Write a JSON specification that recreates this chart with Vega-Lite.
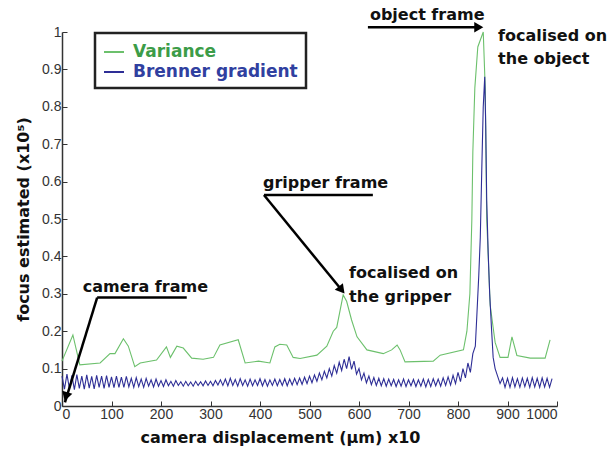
{
  "$schema": "https://vega.github.io/schema/vega-lite/v6.json",
  "width": 495,
  "height": 374,
  "autosize": {"type": "none"},
  "padding": {"left": 62, "top": 32, "right": 54, "bottom": 47},
  "background": "white",
  "config": {
    "font": "Liberation Sans",
    "view": {"stroke": null},
    "axis": {
      "grid": false,
      "domainColor": "#333333",
      "domainWidth": 1.5,
      "tickColor": "#333333",
      "tickSize": -5,
      "labelFont": "Liberation Sans",
      "labelFontSize": 14,
      "labelColor": "#333333",
      "titleFont": "DejaVu Sans",
      "titleFontWeight": "bold",
      "titleColor": "#111111",
      "titleFontSize": 16
    }
  },
  "datasets": {
    "series": [
      {"s": "Variance", "x": 0, "y": 0.12},
      {"s": "Variance", "x": 22, "y": 0.19},
      {"s": "Variance", "x": 36, "y": 0.11},
      {"s": "Variance", "x": 77, "y": 0.115},
      {"s": "Variance", "x": 97, "y": 0.14},
      {"s": "Variance", "x": 107, "y": 0.14},
      {"s": "Variance", "x": 124, "y": 0.18},
      {"s": "Variance", "x": 134, "y": 0.16},
      {"s": "Variance", "x": 147, "y": 0.105},
      {"s": "Variance", "x": 158, "y": 0.115},
      {"s": "Variance", "x": 191, "y": 0.123},
      {"s": "Variance", "x": 211, "y": 0.158},
      {"s": "Variance", "x": 219, "y": 0.13},
      {"s": "Variance", "x": 232, "y": 0.16},
      {"s": "Variance", "x": 245, "y": 0.155},
      {"s": "Variance", "x": 262, "y": 0.128},
      {"s": "Variance", "x": 285, "y": 0.125},
      {"s": "Variance", "x": 306, "y": 0.13},
      {"s": "Variance", "x": 319, "y": 0.163},
      {"s": "Variance", "x": 356, "y": 0.177},
      {"s": "Variance", "x": 370, "y": 0.115},
      {"s": "Variance", "x": 397, "y": 0.12},
      {"s": "Variance", "x": 420, "y": 0.115},
      {"s": "Variance", "x": 430, "y": 0.158},
      {"s": "Variance", "x": 440, "y": 0.165},
      {"s": "Variance", "x": 454, "y": 0.163},
      {"s": "Variance", "x": 467, "y": 0.13},
      {"s": "Variance", "x": 481, "y": 0.127},
      {"s": "Variance", "x": 515, "y": 0.136},
      {"s": "Variance", "x": 535, "y": 0.16},
      {"s": "Variance", "x": 548, "y": 0.2},
      {"s": "Variance", "x": 555, "y": 0.21},
      {"s": "Variance", "x": 568, "y": 0.297},
      {"s": "Variance", "x": 575, "y": 0.28},
      {"s": "Variance", "x": 585, "y": 0.23},
      {"s": "Variance", "x": 596, "y": 0.185},
      {"s": "Variance", "x": 616, "y": 0.15},
      {"s": "Variance", "x": 649, "y": 0.14},
      {"s": "Variance", "x": 666, "y": 0.15},
      {"s": "Variance", "x": 677, "y": 0.163},
      {"s": "Variance", "x": 683, "y": 0.15},
      {"s": "Variance", "x": 693, "y": 0.118},
      {"s": "Variance", "x": 750, "y": 0.12},
      {"s": "Variance", "x": 764, "y": 0.136},
      {"s": "Variance", "x": 811, "y": 0.15},
      {"s": "Variance", "x": 818, "y": 0.2},
      {"s": "Variance", "x": 824, "y": 0.3},
      {"s": "Variance", "x": 828, "y": 0.5},
      {"s": "Variance", "x": 830, "y": 0.68},
      {"s": "Variance", "x": 834, "y": 0.85},
      {"s": "Variance", "x": 840, "y": 0.96},
      {"s": "Variance", "x": 851, "y": 1.0},
      {"s": "Variance", "x": 855, "y": 0.85},
      {"s": "Variance", "x": 858, "y": 0.5},
      {"s": "Variance", "x": 865, "y": 0.27},
      {"s": "Variance", "x": 870, "y": 0.22},
      {"s": "Variance", "x": 875, "y": 0.17},
      {"s": "Variance", "x": 885, "y": 0.13},
      {"s": "Variance", "x": 901, "y": 0.13},
      {"s": "Variance", "x": 909, "y": 0.185},
      {"s": "Variance", "x": 919, "y": 0.135},
      {"s": "Variance", "x": 946, "y": 0.128},
      {"s": "Variance", "x": 976, "y": 0.128},
      {"s": "Variance", "x": 986, "y": 0.177},
      {"s": "Brenner gradient", "x": 0, "y": 0.08},
      {"s": "Brenner gradient", "x": 5, "y": 0.045},
      {"s": "Brenner gradient", "x": 10, "y": 0.085},
      {"s": "Brenner gradient", "x": 15, "y": 0.046},
      {"s": "Brenner gradient", "x": 20, "y": 0.082},
      {"s": "Brenner gradient", "x": 25, "y": 0.044},
      {"s": "Brenner gradient", "x": 30, "y": 0.084},
      {"s": "Brenner gradient", "x": 35, "y": 0.047},
      {"s": "Brenner gradient", "x": 40, "y": 0.08},
      {"s": "Brenner gradient", "x": 45, "y": 0.045},
      {"s": "Brenner gradient", "x": 50, "y": 0.083},
      {"s": "Brenner gradient", "x": 55, "y": 0.048},
      {"s": "Brenner gradient", "x": 60, "y": 0.079},
      {"s": "Brenner gradient", "x": 65, "y": 0.046},
      {"s": "Brenner gradient", "x": 70, "y": 0.082},
      {"s": "Brenner gradient", "x": 75, "y": 0.05},
      {"s": "Brenner gradient", "x": 80, "y": 0.08},
      {"s": "Brenner gradient", "x": 85, "y": 0.047},
      {"s": "Brenner gradient", "x": 90, "y": 0.081},
      {"s": "Brenner gradient", "x": 95, "y": 0.05},
      {"s": "Brenner gradient", "x": 100, "y": 0.078},
      {"s": "Brenner gradient", "x": 105, "y": 0.049},
      {"s": "Brenner gradient", "x": 110, "y": 0.08},
      {"s": "Brenner gradient", "x": 115, "y": 0.05},
      {"s": "Brenner gradient", "x": 120, "y": 0.077},
      {"s": "Brenner gradient", "x": 125, "y": 0.05},
      {"s": "Brenner gradient", "x": 130, "y": 0.079},
      {"s": "Brenner gradient", "x": 135, "y": 0.051},
      {"s": "Brenner gradient", "x": 140, "y": 0.074},
      {"s": "Brenner gradient", "x": 145, "y": 0.05},
      {"s": "Brenner gradient", "x": 150, "y": 0.076},
      {"s": "Brenner gradient", "x": 155, "y": 0.052},
      {"s": "Brenner gradient", "x": 160, "y": 0.072},
      {"s": "Brenner gradient", "x": 165, "y": 0.05},
      {"s": "Brenner gradient", "x": 170, "y": 0.074},
      {"s": "Brenner gradient", "x": 175, "y": 0.053},
      {"s": "Brenner gradient", "x": 180, "y": 0.07},
      {"s": "Brenner gradient", "x": 185, "y": 0.051},
      {"s": "Brenner gradient", "x": 190, "y": 0.072},
      {"s": "Brenner gradient", "x": 195, "y": 0.053},
      {"s": "Brenner gradient", "x": 200, "y": 0.068},
      {"s": "Brenner gradient", "x": 205, "y": 0.052},
      {"s": "Brenner gradient", "x": 210, "y": 0.07},
      {"s": "Brenner gradient", "x": 215, "y": 0.054},
      {"s": "Brenner gradient", "x": 220, "y": 0.066},
      {"s": "Brenner gradient", "x": 225, "y": 0.053},
      {"s": "Brenner gradient", "x": 230, "y": 0.068},
      {"s": "Brenner gradient", "x": 235, "y": 0.055},
      {"s": "Brenner gradient", "x": 240, "y": 0.065},
      {"s": "Brenner gradient", "x": 245, "y": 0.053},
      {"s": "Brenner gradient", "x": 250, "y": 0.066},
      {"s": "Brenner gradient", "x": 255, "y": 0.054},
      {"s": "Brenner gradient", "x": 260, "y": 0.064},
      {"s": "Brenner gradient", "x": 265, "y": 0.053},
      {"s": "Brenner gradient", "x": 270, "y": 0.066},
      {"s": "Brenner gradient", "x": 275, "y": 0.055},
      {"s": "Brenner gradient", "x": 280, "y": 0.065},
      {"s": "Brenner gradient", "x": 285, "y": 0.054},
      {"s": "Brenner gradient", "x": 290, "y": 0.067},
      {"s": "Brenner gradient", "x": 295, "y": 0.055},
      {"s": "Brenner gradient", "x": 300, "y": 0.066},
      {"s": "Brenner gradient", "x": 305, "y": 0.054},
      {"s": "Brenner gradient", "x": 310, "y": 0.068},
      {"s": "Brenner gradient", "x": 315, "y": 0.056},
      {"s": "Brenner gradient", "x": 320, "y": 0.07},
      {"s": "Brenner gradient", "x": 325, "y": 0.055},
      {"s": "Brenner gradient", "x": 330, "y": 0.072},
      {"s": "Brenner gradient", "x": 335, "y": 0.054},
      {"s": "Brenner gradient", "x": 340, "y": 0.074},
      {"s": "Brenner gradient", "x": 345, "y": 0.055},
      {"s": "Brenner gradient", "x": 350, "y": 0.071},
      {"s": "Brenner gradient", "x": 355, "y": 0.053},
      {"s": "Brenner gradient", "x": 360, "y": 0.073},
      {"s": "Brenner gradient", "x": 365, "y": 0.055},
      {"s": "Brenner gradient", "x": 370, "y": 0.07},
      {"s": "Brenner gradient", "x": 375, "y": 0.053},
      {"s": "Brenner gradient", "x": 380, "y": 0.072},
      {"s": "Brenner gradient", "x": 385, "y": 0.054},
      {"s": "Brenner gradient", "x": 390, "y": 0.07},
      {"s": "Brenner gradient", "x": 395, "y": 0.055},
      {"s": "Brenner gradient", "x": 400, "y": 0.073},
      {"s": "Brenner gradient", "x": 405, "y": 0.054},
      {"s": "Brenner gradient", "x": 410, "y": 0.071},
      {"s": "Brenner gradient", "x": 415, "y": 0.053},
      {"s": "Brenner gradient", "x": 420, "y": 0.07},
      {"s": "Brenner gradient", "x": 425, "y": 0.055},
      {"s": "Brenner gradient", "x": 430, "y": 0.072},
      {"s": "Brenner gradient", "x": 435, "y": 0.054},
      {"s": "Brenner gradient", "x": 440, "y": 0.071},
      {"s": "Brenner gradient", "x": 445, "y": 0.055},
      {"s": "Brenner gradient", "x": 450, "y": 0.073},
      {"s": "Brenner gradient", "x": 455, "y": 0.054},
      {"s": "Brenner gradient", "x": 460, "y": 0.072},
      {"s": "Brenner gradient", "x": 465, "y": 0.056},
      {"s": "Brenner gradient", "x": 470, "y": 0.074},
      {"s": "Brenner gradient", "x": 475, "y": 0.057},
      {"s": "Brenner gradient", "x": 480, "y": 0.075},
      {"s": "Brenner gradient", "x": 485, "y": 0.058},
      {"s": "Brenner gradient", "x": 490, "y": 0.077},
      {"s": "Brenner gradient", "x": 495, "y": 0.06},
      {"s": "Brenner gradient", "x": 500, "y": 0.08},
      {"s": "Brenner gradient", "x": 505, "y": 0.062},
      {"s": "Brenner gradient", "x": 510, "y": 0.083},
      {"s": "Brenner gradient", "x": 515, "y": 0.066},
      {"s": "Brenner gradient", "x": 520, "y": 0.088},
      {"s": "Brenner gradient", "x": 525, "y": 0.07},
      {"s": "Brenner gradient", "x": 530, "y": 0.093},
      {"s": "Brenner gradient", "x": 535, "y": 0.075},
      {"s": "Brenner gradient", "x": 540, "y": 0.1},
      {"s": "Brenner gradient", "x": 545, "y": 0.08},
      {"s": "Brenner gradient", "x": 550, "y": 0.108},
      {"s": "Brenner gradient", "x": 555, "y": 0.088},
      {"s": "Brenner gradient", "x": 560, "y": 0.117},
      {"s": "Brenner gradient", "x": 565, "y": 0.095},
      {"s": "Brenner gradient", "x": 570, "y": 0.125},
      {"s": "Brenner gradient", "x": 575, "y": 0.1},
      {"s": "Brenner gradient", "x": 580, "y": 0.132},
      {"s": "Brenner gradient", "x": 585, "y": 0.098},
      {"s": "Brenner gradient", "x": 590, "y": 0.12},
      {"s": "Brenner gradient", "x": 595, "y": 0.085},
      {"s": "Brenner gradient", "x": 600, "y": 0.1},
      {"s": "Brenner gradient", "x": 605, "y": 0.07},
      {"s": "Brenner gradient", "x": 610, "y": 0.088},
      {"s": "Brenner gradient", "x": 615, "y": 0.062},
      {"s": "Brenner gradient", "x": 620, "y": 0.08},
      {"s": "Brenner gradient", "x": 625, "y": 0.057},
      {"s": "Brenner gradient", "x": 630, "y": 0.076},
      {"s": "Brenner gradient", "x": 635, "y": 0.055},
      {"s": "Brenner gradient", "x": 640, "y": 0.074},
      {"s": "Brenner gradient", "x": 645, "y": 0.054},
      {"s": "Brenner gradient", "x": 650, "y": 0.073},
      {"s": "Brenner gradient", "x": 655, "y": 0.053},
      {"s": "Brenner gradient", "x": 660, "y": 0.072},
      {"s": "Brenner gradient", "x": 665, "y": 0.054},
      {"s": "Brenner gradient", "x": 670, "y": 0.071},
      {"s": "Brenner gradient", "x": 675, "y": 0.052},
      {"s": "Brenner gradient", "x": 680, "y": 0.07},
      {"s": "Brenner gradient", "x": 685, "y": 0.053},
      {"s": "Brenner gradient", "x": 690, "y": 0.072},
      {"s": "Brenner gradient", "x": 695, "y": 0.052},
      {"s": "Brenner gradient", "x": 700, "y": 0.07},
      {"s": "Brenner gradient", "x": 705, "y": 0.054},
      {"s": "Brenner gradient", "x": 710, "y": 0.071},
      {"s": "Brenner gradient", "x": 715, "y": 0.052},
      {"s": "Brenner gradient", "x": 720, "y": 0.07},
      {"s": "Brenner gradient", "x": 725, "y": 0.053},
      {"s": "Brenner gradient", "x": 730, "y": 0.072},
      {"s": "Brenner gradient", "x": 735, "y": 0.051},
      {"s": "Brenner gradient", "x": 740, "y": 0.071},
      {"s": "Brenner gradient", "x": 745, "y": 0.052},
      {"s": "Brenner gradient", "x": 750, "y": 0.073},
      {"s": "Brenner gradient", "x": 755, "y": 0.054},
      {"s": "Brenner gradient", "x": 760, "y": 0.072},
      {"s": "Brenner gradient", "x": 765, "y": 0.053},
      {"s": "Brenner gradient", "x": 770, "y": 0.075},
      {"s": "Brenner gradient", "x": 775, "y": 0.055},
      {"s": "Brenner gradient", "x": 780, "y": 0.078},
      {"s": "Brenner gradient", "x": 785, "y": 0.056},
      {"s": "Brenner gradient", "x": 790, "y": 0.082},
      {"s": "Brenner gradient", "x": 795, "y": 0.06},
      {"s": "Brenner gradient", "x": 800, "y": 0.09},
      {"s": "Brenner gradient", "x": 805, "y": 0.065},
      {"s": "Brenner gradient", "x": 810, "y": 0.1},
      {"s": "Brenner gradient", "x": 815, "y": 0.075},
      {"s": "Brenner gradient", "x": 820, "y": 0.115},
      {"s": "Brenner gradient", "x": 825, "y": 0.09},
      {"s": "Brenner gradient", "x": 830, "y": 0.14},
      {"s": "Brenner gradient", "x": 835, "y": 0.16},
      {"s": "Brenner gradient", "x": 838, "y": 0.24},
      {"s": "Brenner gradient", "x": 842, "y": 0.35},
      {"s": "Brenner gradient", "x": 845, "y": 0.45},
      {"s": "Brenner gradient", "x": 848, "y": 0.63},
      {"s": "Brenner gradient", "x": 851, "y": 0.8},
      {"s": "Brenner gradient", "x": 854, "y": 0.88},
      {"s": "Brenner gradient", "x": 856, "y": 0.75},
      {"s": "Brenner gradient", "x": 858, "y": 0.55},
      {"s": "Brenner gradient", "x": 861, "y": 0.41},
      {"s": "Brenner gradient", "x": 864, "y": 0.3},
      {"s": "Brenner gradient", "x": 868, "y": 0.2},
      {"s": "Brenner gradient", "x": 871, "y": 0.13},
      {"s": "Brenner gradient", "x": 875, "y": 0.1},
      {"s": "Brenner gradient", "x": 880, "y": 0.08},
      {"s": "Brenner gradient", "x": 885, "y": 0.06},
      {"s": "Brenner gradient", "x": 890, "y": 0.075},
      {"s": "Brenner gradient", "x": 895, "y": 0.05},
      {"s": "Brenner gradient", "x": 900, "y": 0.074},
      {"s": "Brenner gradient", "x": 905, "y": 0.05},
      {"s": "Brenner gradient", "x": 910, "y": 0.076},
      {"s": "Brenner gradient", "x": 915, "y": 0.051},
      {"s": "Brenner gradient", "x": 920, "y": 0.073},
      {"s": "Brenner gradient", "x": 925, "y": 0.05},
      {"s": "Brenner gradient", "x": 930, "y": 0.075},
      {"s": "Brenner gradient", "x": 935, "y": 0.052},
      {"s": "Brenner gradient", "x": 940, "y": 0.074},
      {"s": "Brenner gradient", "x": 945, "y": 0.05},
      {"s": "Brenner gradient", "x": 950, "y": 0.076},
      {"s": "Brenner gradient", "x": 955, "y": 0.051},
      {"s": "Brenner gradient", "x": 960, "y": 0.074},
      {"s": "Brenner gradient", "x": 965, "y": 0.05},
      {"s": "Brenner gradient", "x": 970, "y": 0.075},
      {"s": "Brenner gradient", "x": 975, "y": 0.051},
      {"s": "Brenner gradient", "x": 980, "y": 0.074},
      {"s": "Brenner gradient", "x": 985, "y": 0.05},
      {"s": "Brenner gradient", "x": 990, "y": 0.073}
    ],
    "rules": [
      {"x": 71, "y": 0.29, "xe": 252, "ye": 0.29},
      {"x": 71, "y": 0.29, "xe": 6, "ye": 0.01},
      {"x": 408, "y": 0.564, "xe": 628, "ye": 0.564},
      {"x": 408, "y": 0.564, "xe": 565, "ye": 0.31},
      {"x": 618, "y": 1.013, "xe": 840, "ye": 1.013}
    ],
    "heads": [
      {"x": 8, "y": 0.025, "ang": 197},
      {"x": 565, "y": 0.31, "ang": 141},
      {"x": 842, "y": 1.013, "ang": 90}
    ],
    "notes": [
      {"x": 42, "y": 0.318, "t": "camera frame"},
      {"x": 406, "y": 0.596, "t": "gripper frame"},
      {"x": 580, "y": 0.356, "t": "focalised on"},
      {"x": 580, "y": 0.291, "t": "the gripper"},
      {"x": 622, "y": 1.045, "t": "object frame"},
      {"x": 881, "y": 0.99, "t": "focalised on"},
      {"x": 881, "y": 0.928, "t": "the object"}
    ]
  },
  "encoding": {
    "x": {
      "field": "x", "type": "quantitative",
      "scale": {"domain": [0, 1000], "nice": false},
      "axis": {"values": [0, 100, 200, 300, 400, 500, 600, 700, 800, 900, 1000], "format": "d", "title": "camera displacement (μm) x10", "titleX": 218, "titlePadding": 8, "labelPadding": 6}
    },
    "y": {
      "field": "y", "type": "quantitative",
      "scale": {"domain": [0, 1], "nice": false},
      "axis": {"values": [0, 0.1, 0.2, 0.3, 0.4, 0.5, 0.6, 0.7, 0.8, 0.9, 1], "format": "~g", "title": "focus estimated (x10⁵)", "titlePadding": 10, "labelPadding": 6}
    }
  },
  "layer": [
    {
      "data": {"name": "series"},
      "mark": {"type": "line", "strokeWidth": 1.1},
      "encoding": {
        "color": {
          "field": "s", "type": "nominal",
          "scale": {"domain": ["Variance", "Brenner gradient"], "range": ["#6cc06c", "#2e2e96"]},
          "legend": {
            "title": null,
            "orient": "none",
            "legendX": 33,
            "legendY": 1,
            "fillColor": "white",
            "strokeColor": "#222222",
            "padding": 8,
            "symbolType": "stroke",
            "symbolSize": 400,
            "symbolStrokeWidth": 2,
            "labelFontSize": 17,
            "labelFontWeight": "bold",
            "labelFont": "DejaVu Sans",
            "labelOffset": 8,
            "rowPadding": 1,
            "labelLimit": 300,
            "encode": {
              "labels": {"update": {"fill": {"signal": "datum.label === 'Variance' ? '#3c9c48' : '#3040a0'"}}},
              "legend": {"update": {"strokeWidth": {"value": 2.5}}}
            }
          }
        }
      }
    },
    {
      "data": {"name": "rules"},
      "mark": {"type": "rule", "color": "black", "strokeWidth": 2.5},
      "encoding": {
        "x2": {"field": "xe"},
        "y2": {"field": "ye"}
      }
    },
    {
      "data": {"name": "heads"},
      "mark": {"type": "point", "shape": "triangle-up", "filled": true, "color": "black", "size": 110, "opacity": 1},
      "encoding": {
        "angle": {"field": "ang", "type": "quantitative", "scale": null}
      }
    },
    {
      "data": {"name": "notes"},
      "mark": {"type": "text", "align": "left", "baseline": "middle", "font": "DejaVu Sans", "fontWeight": "bold", "fontSize": 16, "color": "#111111"},
      "encoding": {
        "text": {"field": "t"}
      }
    }
  ]
}
